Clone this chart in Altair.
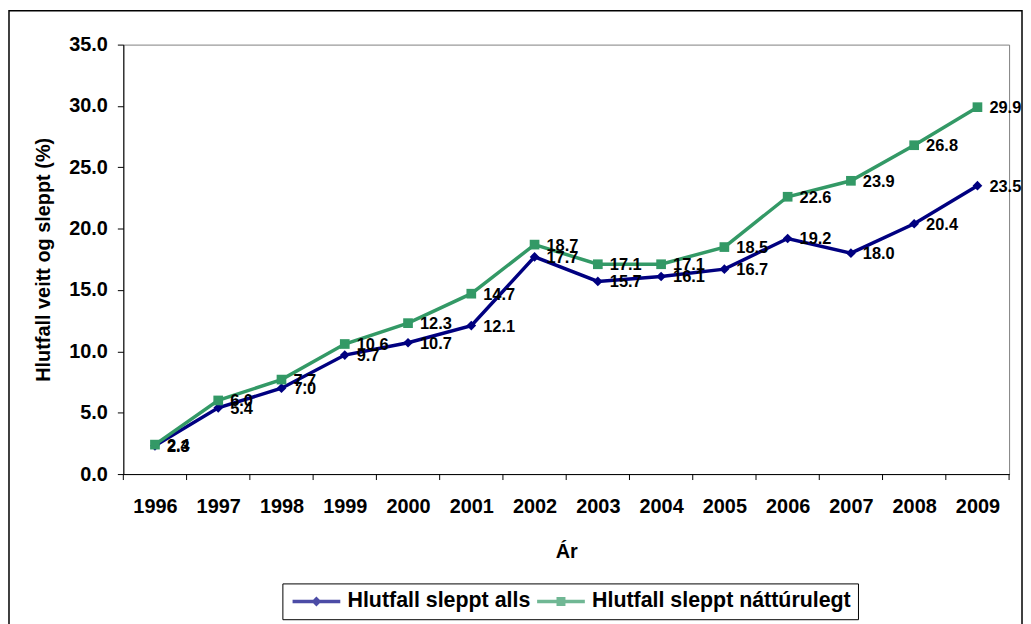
import altair as alt
import pandas as pd

years = list(range(1996, 2010))
alls = [2.3, 5.4, 7.0, 9.7, 10.7, 12.1, 17.7, 15.7, 16.1, 16.7, 19.2, 18.0, 20.4, 23.5]
natt = [2.4, 6.0, 7.7, 10.6, 12.3, 14.7, 18.7, 17.1, 17.1, 18.5, 22.6, 23.9, 26.8, 29.9]
series_names = ["Hlutfall sleppt alls", "Hlutfall sleppt náttúrulegt"]
colors = ["#000080", "#339966"]
y_ticks = [0, 5, 10, 15, 20, 25, 30, 35]

FONT = "Liberation Sans"
W, H = 891, 432

rows = []
for name, vals in zip(series_names, [alls, natt]):
    for yr, v in zip(years, vals):
        rows.append({"Ár": yr, "value": v, "series": name})
df = pd.DataFrame(rows)
edges = pd.DataFrame({"Ár": [yr - 0.5 for yr in years] + [years[-1] + 0.5]})

x = alt.X("Ár:Q",
          scale=alt.Scale(domain=[years[0] - 0.5, years[-1] + 0.5], nice=False, zero=False),
          axis=alt.Axis(values=years, format="d", ticks=False, labelPadding=23,
                        title="Ár", titlePadding=25, grid=False, labelFlush=False))
y = alt.Y("value:Q",
          scale=alt.Scale(domain=[0, 35], nice=False),
          axis=alt.Axis(values=y_ticks, format=".1f", tickSize=6, labelPadding=10,
                        title="Hlutfall veitt og sleppt (%)", titlePadding=15, grid=False))

def color_enc(legend=None):
    return alt.Color("series:N", scale=alt.Scale(domain=series_names, range=colors), legend=legend)

base = alt.Chart(df)

lines = base.mark_line(strokeWidth=3.5).encode(x=x, y=y, color=color_enc())
points = base.mark_point(filled=True, size=95, opacity=1).encode(
    x=x, y=y, color=color_enc(),
    shape=alt.Shape("series:N", scale=alt.Scale(domain=series_names, range=["diamond", "square"]), legend=None))
labels = base.mark_text(align="left", baseline="middle", dx=12, dy=1, fontSize=16.5,
                        fontWeight="bold", font=FONT, color="black").encode(
    x=x, y=y, text=alt.Text("value:Q", format=".1f"))

ticks = alt.Chart(edges).mark_rule(color="black", strokeWidth=1).encode(
    x=x, y=alt.value(H), y2=alt.value(H + 6))

# legend symbol: a line segment with the marker in its middle (unit = 7.5 px)
combo_diamond = "M-1,-0.23L5.4,-0.23L5.4,0.23L-1,0.23Z M2.2,-0.67L2.87,0L2.2,0.67L1.53,0Z"
combo_square = "M-1,-0.23L5.4,-0.23L5.4,0.23L-1,0.23Z M1.6,-0.6L2.8,-0.6L2.8,0.6L1.6,0.6Z"

leg = alt.Legend(title=None, orient="none", legendX=160, legendY=542, direction="horizontal",
                 symbolSize=225, symbolStrokeWidth=0, labelFontSize=21.5, labelFont=FONT,
                 labelFontWeight="bold", labelColor="black", strokeColor="black",
                 fillColor="white", padding=7, labelOffset=37, columnPadding=3, labelLimit=0)

legend_layer = base.transform_filter("datum.value < 0").mark_point(filled=True).encode(
    x=x, y=y, color=color_enc(leg),
    shape=alt.Shape("series:N", scale=alt.Scale(domain=series_names, range=[combo_diamond, combo_square]), legend=leg))

border = alt.Chart(pd.DataFrame({"k": [0]})).mark_rect(fillOpacity=0, stroke="black", strokeWidth=1.5).encode(
    x=alt.value(-115), x2=alt.value(W + 13), y=alt.value(-34), y2=alt.value(H + 200))

chart = alt.layer(border, ticks, lines, points, labels, legend_layer).resolve_scale(
    color="independent", shape="independent"
).properties(
    width=W, height=H,
    autosize=alt.AutoSizeParams(type="none"),
    padding={"left": 116, "top": 35, "right": 14, "bottom": 149},
).configure_view(stroke="#808080", strokeWidth=1).configure_axis(
    domainColor="black", tickColor="black", labelColor="black", titleColor="black",
    labelFont=FONT, titleFont=FONT, labelFontWeight="bold", titleFontWeight="bold",
    labelFontSize=20, titleFontSize=20,
)

chart.save("out.html", embed_options={"renderer": "svg", "actions": False})
